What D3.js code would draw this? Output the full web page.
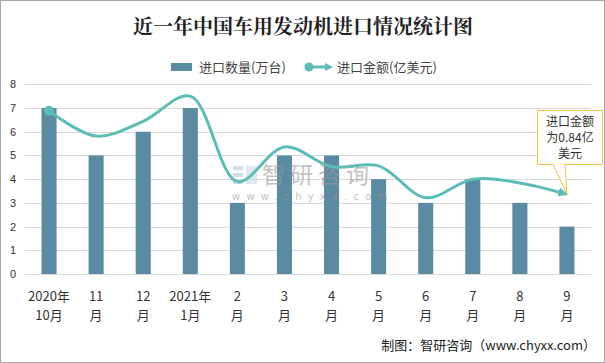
<!DOCTYPE html>
<html><head><meta charset="utf-8">
<script src="https://cdn.jsdelivr.net/npm/d3@7"></script>
<style>
html,body{margin:0;padding:0;background:#fff;}
svg{display:block;font-family:"Noto Sans CJK SC","Microsoft YaHei",sans-serif;}
</style></head>
<body><svg id="c" width="605" height="363"></svg>
<script>
const categories = [["2020年","10月"],["11","月"],["12","月"],["2021年","1月"],["2","月"],["3","月"],["4","月"],["5","月"],["6","月"],["7","月"],["8","月"],["9","月"]];
const quantity = [7,5,6,7,3,5,5,4,3,4,3,2];             // 进口数量(万台)
const amount = [1.72,1.455,1.61,1.875,0.975,1.34,1.13,1.14,0.805,1.0,0.96,0.84]; // 进口金额(亿美元)
const yTicks = [0,1,2,3,4,5,6,7,8];

const svg = d3.select("#c");
const W = 605, H = 363;
const barColor = "#5b8aa3", lineColor = "#5cbdb5";

svg.append("rect").attr("x",0.5).attr("y",0.5).attr("width",W-1).attr("height",H-1)
  .attr("fill","#fff").attr("stroke","#a6a6a6");

const x = d3.scaleBand().domain(d3.range(categories.length)).range([25.5,590.5]).paddingInner(0.68).paddingOuter(0.34);
const y = d3.scaleLinear().domain([0,8]).range([274,84.3]);
const y2 = d3.scaleLinear().domain([0,2]).range([274,84.3]);

// title
svg.append("text").attr("x",303).attr("y",34).attr("text-anchor","middle")
  .attr("font-size",20).attr("font-weight","bold").attr("fill","#222")
  .attr("font-family","'Noto Serif CJK SC','Noto Sans CJK SC',serif")
  .text("近一年中国车用发动机进口情况统计图");

// legend
const lg = svg.append("g").attr("font-size",13).attr("fill","#444");
lg.append("rect").attr("x",171).attr("y",63).attr("width",21).attr("height",8).attr("fill",barColor);
lg.append("text").attr("x",199).attr("y",72).text("进口数量(万台)");
lg.append("line").attr("x1",309).attr("x2",327).attr("y1",67).attr("y2",67).attr("stroke",lineColor).attr("stroke-width",3);
lg.append("circle").attr("cx",309).attr("cy",67).attr("r",4.5).attr("fill",lineColor);
lg.append("path").attr("d","M325,63 L333,67 L325,71 Z").attr("fill",lineColor);
lg.append("text").attr("x",337).attr("y",72).text("进口金额(亿美元)");

// grid
const grid = svg.append("g");
grid.selectAll("line").data(yTicks).join("line")
  .attr("x1",25).attr("x2",591).attr("y1",d=>Math.round(y(d))+0.5).attr("y2",d=>Math.round(y(d))+0.5)
  .attr("stroke","#d9d9d9").attr("stroke-width",1);

// y axis labels
const yAxis = d3.axisLeft(y).tickValues(yTicks).tickSize(0).tickPadding(0);
const ya = svg.append("g").attr("transform","translate(13,0)").call(yAxis);
ya.select(".domain").remove();
ya.selectAll("text").attr("font-size",11).attr("fill","#333").attr("text-anchor","middle")
  .attr("font-family","'Liberation Sans',Arial,sans-serif");

// bars
svg.append("g").selectAll("rect").data(quantity).join("rect")
  .attr("x",(d,i)=>x(i)).attr("width",x.bandwidth())
  .attr("y",d=>y(d)).attr("height",d=>y(0)-y(d)).attr("fill",barColor);

// x axis labels
const xAxis = d3.axisBottom(x).tickSize(0).tickFormat("");
const xa = svg.append("g").attr("transform","translate(0,274)").call(xAxis);
xa.select(".domain").remove();
const xl = svg.append("g").attr("font-size",13).attr("fill","#333").attr("text-anchor","middle");
categories.forEach((c,i)=>{
  const cx = x(i)+x.bandwidth()/2;
  xl.append("text").attr("x",cx).attr("y",301).text(c[0]);
  xl.append("text").attr("x",cx).attr("y",320).text(c[1]);
});

// watermark
const wm = svg.append("g").attr("opacity",0.6);
wm.append("rect").attr("x",233).attr("y",166).attr("width",10).attr("height",4).attr("fill","#b5c7da");
wm.append("rect").attr("x",233).attr("y",173).attr("width",10).attr("height",4).attr("fill","#b5c7da");
wm.append("rect").attr("x",233).attr("y",180).attr("width",10).attr("height",4).attr("fill","#b5c7da");
wm.append("rect").attr("x",246).attr("y",166).attr("width",11).attr("height",18).attr("fill","#c9d9e8");
wm.append("text").attr("x",262).attr("y",183).attr("font-size",23).attr("fill","#999").attr("letter-spacing",5).text("智研咨询");
wm.append("text").attr("x",232).attr("y",200).attr("font-size",10).attr("fill","#999").attr("letter-spacing",6.2)
  .attr("font-family","'DejaVu Sans',sans-serif").text("www.chyxx.com");

// line
const pts = amount.map((d,i)=>[x(i)+x.bandwidth()/2, y2(d)]);
const line = d3.line().curve(d3.curveCatmullRom.alpha(0.5));
svg.append("defs").append("marker").attr("id","arr").attr("viewBox","0 0 10 10")
  .attr("refX",9).attr("refY",5).attr("markerWidth",3.2).attr("markerHeight",3.2)
  .attr("markerUnits","strokeWidth").attr("orient","auto")
  .append("path").attr("d","M0,0 L10,5 L0,10 Z").attr("fill",lineColor);
svg.append("path").attr("d",line(pts)).attr("fill","none").attr("stroke",lineColor)
  .attr("stroke-width",3).attr("marker-end","url(#arr)");
svg.append("circle").attr("cx",pts[0][0]).attr("cy",pts[0][1]).attr("r",5).attr("fill",lineColor);

// callout
const last = pts[pts.length-1];
svg.append("path")
  .attr("d",`M537.5,110.5 H602.5 V164.5 H${565} L${last[0]},${last[1]} L553,164.5 H537.5 Z`)
  .attr("fill","#fff").attr("stroke","#f5c242").attr("stroke-width",1);
const ct = svg.append("g").attr("font-size",12).attr("fill","#333").attr("text-anchor","middle");
[["进口金额",126],["为0.84亿",142],["美元",158]].forEach(t=>ct.append("text").attr("x",570).attr("y",t[1]).text(t[0]));

// footer
svg.append("text").attr("x",596).attr("y",350).attr("text-anchor","end").attr("font-size",13).attr("fill","#222")
  .text("制图：智研咨询（www.chyxx.com）");
</script></body></html>
